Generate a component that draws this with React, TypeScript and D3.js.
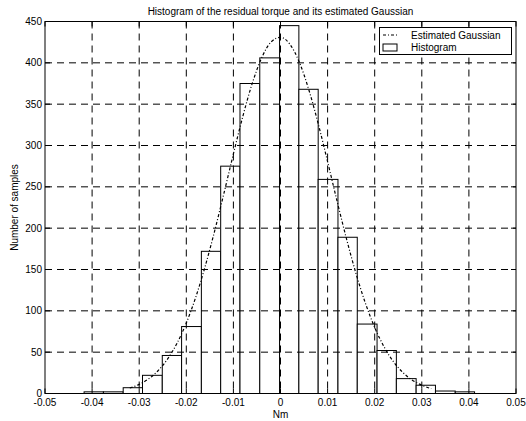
import React from 'react';
import * as d3 from 'd3';

// histogram bin edges (Nm) and counts
const binEdges = [-0.0417, -0.0376, -0.0334, -0.0293, -0.0251, -0.021, -0.0168, -0.0127, -0.0086, -0.0044,
  -0.0002, 0.0039, 0.008, 0.0122, 0.0163, 0.0205, 0.0246, 0.0288, 0.0329, 0.0371, 0.0412];
const binCounts = [2, 2, 7, 22, 46, 81, 172, 275, 375, 406, 445, 368, 259, 189, 84, 52, 18, 10, 3, 2];

// estimated gaussian, sampled along the curve
const gaussX = [-0.032, -0.03, -0.028, -0.026, -0.024, -0.022, -0.02, -0.018, -0.016, -0.014, -0.012, -0.01,
  -0.008, -0.006, -0.004, -0.002, 0, 0.002, 0.004, 0.006, 0.008, 0.01, 0.012, 0.014, 0.016, 0.018, 0.02,
  0.022, 0.024, 0.026, 0.028, 0.03, 0.032];
const gaussY = [6.6, 11, 17.7, 27.5, 41.5, 60.5, 85.3, 116.4, 153.7, 196.2, 242.4, 289.8, 335.2, 375.1, 406,
  425.3, 430.9, 422.5, 400.7, 367.7, 326.5, 280.4, 233, 187.4, 145.7, 109.7, 79.9, 56.3, 38.3, 25.3, 16.1, 10, 5.9];

const xTicks = [-0.05, -0.04, -0.03, -0.02, -0.01, 0, 0.01, 0.02, 0.03, 0.04, 0.05];
const yTicks = [0, 50, 100, 150, 200, 250, 300, 350, 400, 450];

const W = 526, H = 421;
const left = 45, right = 516, top = 21.5, bottom = 393.5;
const font = '"Liberation Sans", Arial, sans-serif';

export default function App() {
  const x = d3.scaleLinear().domain([-0.05, 0.05]).range([left, right]);
  const y = d3.scaleLinear().domain([0, 450]).range([bottom, top]);

  const line = d3.line<number>()
    .x((_, i) => x(gaussX[i]))
    .y(d => y(d))
    .curve(d3.curveMonotoneX);

  const fmt = (v: number) => (v === 0 ? '0' : String(v));

  return (
    <svg width={W} height={H} style={{ position: 'absolute', left: 0, top: 0, background: '#fff' }}
      fontFamily={font}>
      {/* bars */}
      {binCounts.map((c, i) => (
        <rect key={i} x={x(binEdges[i])} y={y(c)} width={x(binEdges[i + 1]) - x(binEdges[i])}
          height={y(0) - y(c)} fill="#fff" stroke="#000" strokeWidth={1} />
      ))}

      {/* grid */}
      <g stroke="#000" strokeWidth={1} strokeDasharray="7,5">
        {xTicks.slice(1, -1).map(t => (
          <line key={'gx' + t} x1={x(t)} x2={x(t)} y1={top} y2={bottom} />
        ))}
        {yTicks.slice(1, -1).map(t => (
          <line key={'gy' + t} x1={left} x2={right} y1={y(t)} y2={y(t)} />
        ))}
      </g>

      {/* gaussian */}
      <path d={line(gaussY) || ''} fill="none" stroke="#000" strokeWidth={1.2} strokeDasharray="3,2,1,2" />

      {/* axes box and ticks */}
      <rect x={left} y={top} width={right - left} height={bottom - top} fill="none" stroke="#000" strokeWidth={1} />
      <g stroke="#000" strokeWidth={1}>
        {xTicks.map(t => (
          <g key={'tx' + t}>
            <line x1={x(t)} x2={x(t)} y1={bottom} y2={bottom - 5} />
            <line x1={x(t)} x2={x(t)} y1={top} y2={top + 5} />
          </g>
        ))}
        {yTicks.map(t => (
          <g key={'ty' + t}>
            <line x1={left} x2={left + 5} y1={y(t)} y2={y(t)} />
            <line x1={right} x2={right - 5} y1={y(t)} y2={y(t)} />
          </g>
        ))}
      </g>

      {/* tick labels */}
      <g fontSize={10} fill="#000">
        {xTicks.map(t => (
          <text key={'lx' + t} x={x(t)} y={bottom + 12} textAnchor="middle">{fmt(t)}</text>
        ))}
        {yTicks.map(t => (
          <text key={'ly' + t} x={left - 3} y={y(t) + 3.5} textAnchor="end">{t}</text>
        ))}
      </g>

      {/* labels */}
      <text x={x(0)} y={15} fontSize={10} textAnchor="middle">Histogram of the residual torque and its estimated Gaussian</text>
      <text x={x(0)} y={418} fontSize={10} textAnchor="middle">Nm</text>
      <text transform={`translate(18,${(top + bottom) / 2}) rotate(-90)`} fontSize={10} textAnchor="middle">Number of samples</text>

      {/* legend */}
      <g>
        <rect x={379.5} y={27.5} width={132} height={27} fill="#fff" stroke="#000" strokeWidth={1} />
        <line x1={383} x2={397} y1={35} y2={35} stroke="#000" strokeWidth={1.2} strokeDasharray="3,2,1,2" />
        <text x={411} y={38.5} fontSize={10}>Estimated Gaussian</text>
        <rect x={383} y={44} width={14} height={7} fill="#fff" stroke="#000" strokeWidth={1} />
        <text x={411} y={50.5} fontSize={10}>Histogram</text>
      </g>
    </svg>
  );
}
